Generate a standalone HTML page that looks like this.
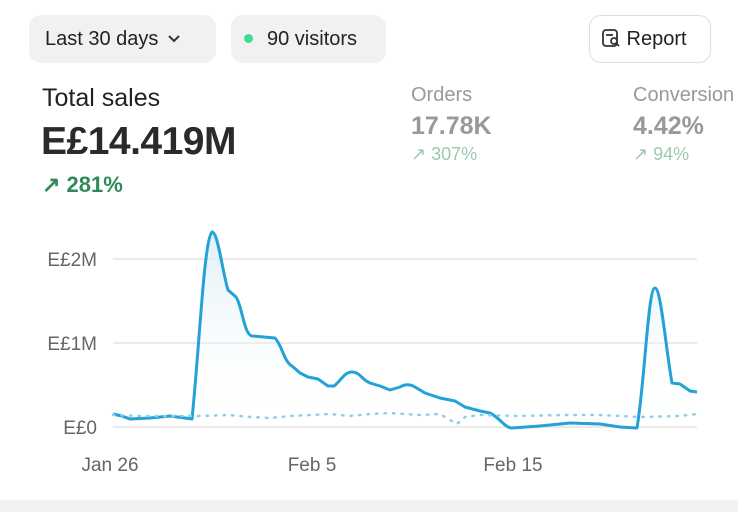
<!DOCTYPE html>
<html><head><meta charset="utf-8"><style>
body{margin:0;width:738px;height:512px;background:#fff;font-family:"Liberation Sans",sans-serif;overflow:hidden;position:relative}
.pill{position:absolute;top:15px;height:48px;border-radius:12px;background:#f1f1f1;font-size:20px;color:#222;line-height:48px}
.t{position:absolute;white-space:nowrap}
</style></head><body>
<div class="pill" style="left:29px;width:187px;"><span style="margin-left:16px">Last 30 days</span><svg width="16" height="12" style="margin-left:8px" viewBox="0 0 16 12"><path d="M3 3l5 5 5-5" fill="none" stroke="#333" stroke-width="2"/></svg></div>
<div class="pill" style="left:231px;width:155px;"><span style="display:inline-block;width:9px;height:9px;border-radius:50%;background:#3ddc97;margin-left:13px;margin-right:14px;vertical-align:2px"></span>90 visitors</div>
<div style="position:absolute;left:589px;top:15px;width:120px;height:46px;border:1px solid #ddd;border-radius:12px;font-size:20px;line-height:46px;color:#222"><svg width="20" height="20" viewBox="0 0 20 20" style="margin-left:11px;vertical-align:-3px"><rect x="2" y="2" width="14" height="16" rx="3" fill="none" stroke="#333" stroke-width="1.8"/><line x1="5" y1="7" x2="12" y2="7" stroke="#333" stroke-width="1.8"/><circle cx="13" cy="13" r="3" fill="#fff" stroke="#333" stroke-width="1.8"/><line x1="15" y1="15" x2="18" y2="18" stroke="#333" stroke-width="1.8"/></svg> Report</div>
<div class="t" style="left:42px;top:84px;font-size:25px;color:#222">Total sales</div>
<div class="t" style="left:41px;top:120px;font-size:39px;font-weight:bold;color:#2a2a2a;letter-spacing:-0.5px">E£14.419M</div>
<div class="t" style="left:42px;top:172px;font-size:22px;color:#2f8a5a;font-weight:bold">↗ 281%</div>
<div class="t" style="left:411px;top:84px;font-size:20px;color:#999">Orders</div>
<div class="t" style="left:411px;top:112px;font-size:25px;color:#999;font-weight:bold">17.78K</div>
<div class="t" style="left:411px;top:144px;font-size:18px;color:#9cc9b0">↗ 307%</div>
<div class="t" style="left:633px;top:84px;font-size:20px;color:#999">Conversion</div>
<div class="t" style="left:633px;top:112px;font-size:25px;color:#999;font-weight:bold">4.42%</div>
<div class="t" style="left:633px;top:144px;font-size:18px;color:#9cc9b0">↗ 94%</div>
<svg style="position:absolute;left:0;top:0" width="738" height="512">
<g stroke="#e4e4e4" stroke-width="1.5"><line x1="113" y1="259" x2="697" y2="259"/><line x1="113" y1="343" x2="697" y2="343"/><line x1="113" y1="427" x2="697" y2="427"/></g>
<g font-size="19" fill="#666" text-anchor="end" font-family="Liberation Sans"><text x="97" y="266">E£2M</text><text x="97" y="350">E£1M</text><text x="97" y="434">E£0</text></g>
<g font-size="19" fill="#666" text-anchor="middle" font-family="Liberation Sans"><text x="110" y="471">Jan 26</text><text x="312" y="471">Feb 5</text><text x="513" y="471">Feb 15</text></g>
<defs><linearGradient id="g" x1="0" y1="0" x2="0" y2="1"><stop offset="0" stop-color="#d8ecf5" stop-opacity=".8"/><stop offset="1" stop-color="#fff" stop-opacity="0"/></linearGradient></defs>
<path d="M113,414 L122,416 130,419 150,418 170,416 185,418 192,419 C200,340 204,240 212,232 C218,232 222,270 228,290 L236,297 C242,305 244,335 252,336 L275,338 C282,345 284,362 292,366 L300,373 308,377 318,379 328,386 334,386 C340,382 344,372 352,372 C360,372 362,380 370,383 L380,386 390,390 400,387 C405,384 410,384 415,387 L425,393 440,398 455,401 465,407 480,411 490,413 C500,418 505,428 512,428 L540,426 570,423 600,424 620,427 637,428 C645,380 648,288 655,288 C661,288 666,350 672,383 L680,384 690,391 697,392 L697,427 113,427Z" fill="url(#g)"/>
<path d="M113,414 L122,416 130,419 150,418 170,416 185,418 192,419 C200,340 204,240 212,232 C218,232 222,270 228,290 L236,297 C242,305 244,335 252,336 L275,338 C282,345 284,362 292,366 L300,373 308,377 318,379 328,386 334,386 C340,382 344,372 352,372 C360,372 362,380 370,383 L380,386 390,390 400,387 C405,384 410,384 415,387 L425,393 440,398 455,401 465,407 480,411 490,413 C500,418 505,428 512,428 L540,426 570,423 600,424 620,427 637,428 C645,380 648,288 655,288 C661,288 666,350 672,383 L680,384 690,391 697,392" fill="none" stroke="#22a2d6" stroke-width="3" stroke-linejoin="round"/>
<path d="M113,415 L140,416 170,416 200,416 230,415 250,417 270,418 290,416 330,414 350,416 370,414 390,413 420,415 440,414 450,420 457,424 465,417 480,415 520,416 560,415 600,415 640,417 680,416 697,414" fill="none" stroke="#8ccfe6" stroke-width="2.5" stroke-dasharray="1.5 7" stroke-linecap="round"/>
</svg>
<div style="position:absolute;left:0;top:500px;width:738px;height:12px;background:#f2f2f2"></div>
</body></html>
